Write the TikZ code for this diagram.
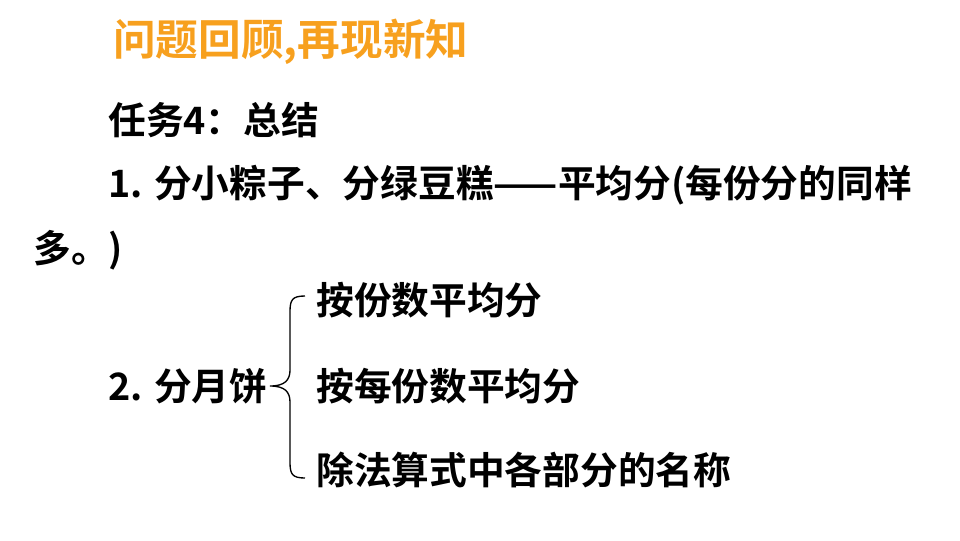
\documentclass[tikz,border=0pt]{standalone}
\usepackage{fontspec}
\setmainfont{Noto Sans CJK SC Bold}
\definecolor{ttl}{RGB}{247,160,30}
\begin{document}
\begin{tikzpicture}[x=0.75pt,y=-0.75pt,
  body/.style={anchor=west,inner sep=0pt,font=\fontsize{28.3pt}{32pt}\selectfont}]
\useasboundingbox (0,0) rectangle (960,540);
\node[anchor=west,inner sep=0pt,text=ttl,font=\fontsize{32pt}{36pt}\selectfont] (t) at (113,42) {问题回顾,再现新知};
\node[body] (a) at (108,120) {任务4：总结};
\node[body] (b) at (108,185) {1. 分小粽子、分绿豆糕——平均分(每份分的同样};
\node[body] (c) at (33,250) {多。)};
\node[body] (d) at (108,386) {2. 分月饼};
\node[body] (e) at (316,300) {按份数平均分};
\node[body] (f) at (316,386) {按每份数平均分};
\node[body] (g) at (316,470) {除法算式中各部分的名称};
\coordinate (tip) at (270,386);
\draw[line width=1pt] (305,296) .. controls (292,296) and (290,300) .. (290,312) -- (290,370)
  .. controls (290,380) and (285,386) .. (tip) .. controls (285,386) and (290,392) .. (290,402)
  -- (290,462) .. controls (290,474) and (292,478) .. (305,478);
\end{tikzpicture}
\end{document}
